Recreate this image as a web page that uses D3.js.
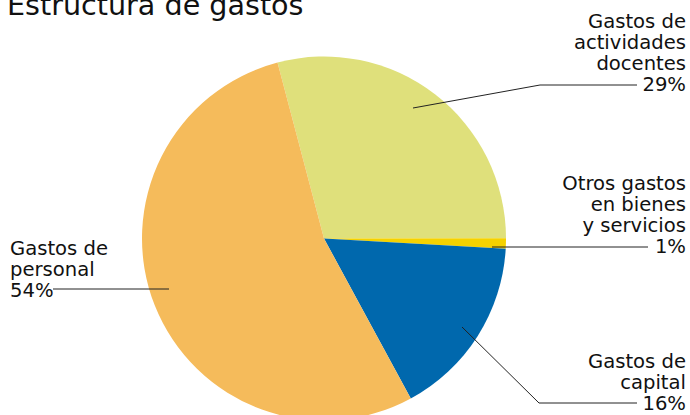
<!DOCTYPE html>
<html>
<head>
<meta charset="utf-8">
<script src="https://cdn.jsdelivr.net/npm/d3@7"></script>
<style>
  body { margin: 0; background: #fff; }
  svg { display: block; font-family: "DejaVu Sans", sans-serif; }
</style>
</head>
<body>
<svg id="chart" width="690" height="415"></svg>
<script>
const categories = ['Gastos de actividades docentes', 'Otros gastos en bienes y servicios', 'Gastos de capital', 'Gastos de personal']
const values = [29.1, 0.9, 16.2, 53.8]
const percentLabels = ['29%', '1%', '16%', '54%']
const colors = ['#dfe07b', '#f5d200', '#0068ad', '#f5bb5b']

// label layout (line breaks, text position, leader path)
const labelLayout = [
  { lines: ['Gastos de', 'actividades', 'docentes'], x: 686, y: 28, anchor: 'end', leader: [[413, 108], [540, 85], [637, 85]] },
  { lines: ['Otros gastos', 'en bienes', 'y servicios'], x: 686, y: 190, anchor: 'end', leader: [[492, 247], [648, 247]] },
  { lines: ['Gastos de', 'capital'], x: 686, y: 368, anchor: 'end', leader: [[462, 327], [539, 403], [637, 403]] },
  { lines: ['Gastos de', 'personal'], x: 10, y: 255, anchor: 'start', leader: [[53, 289], [169, 289]] }
]

const width = 690
const height = 415
const cx = 324
const cy = 238.5
const radius = 182
const lineHeight = 21

const svg = d3.select('#chart')

svg.append('text')
  .attr('x', 7)
  .attr('y', 15)
  .style('font-size', '28.6px')
  .style('fill', '#111')
  .text('Estructura de gastos')

const pie = d3.pie()
  .sort(null)
  .startAngle(-14.8 * Math.PI / 180)
  .endAngle(-14.8 * Math.PI / 180 + 2 * Math.PI)
  .value(d => d)

const arc = d3.arc().innerRadius(0).outerRadius(radius)

const g = svg.append('g').attr('transform', `translate(${cx},${cy})`)

g.selectAll('path')
  .data(pie(values))
  .enter()
  .append('path')
  .attr('d', arc)
  .attr('fill', (d, i) => colors[i])

// leader lines
svg.selectAll('.leader')
  .data(labelLayout)
  .enter()
  .append('path')
  .attr('class', 'leader')
  .attr('d', d => d3.line()(d.leader))
  .attr('fill', 'none')
  .attr('stroke', '#222')
  .attr('stroke-width', 1)

// labels
labelLayout.forEach((l, i) => {
  const t = svg.append('text')
    .attr('x', l.x)
    .attr('y', l.y)
    .attr('text-anchor', l.anchor)
    .style('font-size', '19.6px')
    .style('fill', '#111')
  l.lines.concat([percentLabels[i]]).forEach((line, j) => {
    t.append('tspan')
      .attr('x', l.x)
      .attr('y', l.y + j * lineHeight)
      .text(line)
  })
})
</script>
</body>
</html>
